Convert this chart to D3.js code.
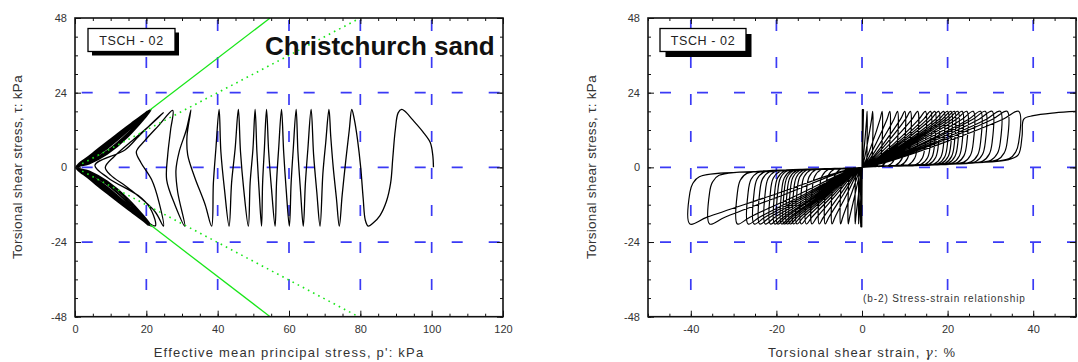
<!DOCTYPE html>
<html>
<head>
<meta charset="utf-8">
<script src="https://cdn.jsdelivr.net/npm/d3@7/dist/d3.min.js"></script>
<style>
  body { margin: 0; background: #fff; }
  svg { display: block; font-family: Arial, "Liberation Sans", sans-serif; }
</style>
</head>
<body>
<svg id="chart" width="1078" height="362"></svg>
<script>
// ---- data ----
const tauTicks = [-48, -24, 0, 24, 48];
const pTicks = [0, 20, 40, 60, 80, 100, 120];
const strainTicks = [-40, -20, 0, 20, 40];
const tauGrid = [-24, 0, 24];
const pGrid = [20, 40, 60, 80, 100];
const strainGrid = [-40, -20, 0, 20, 40];

// green lines in the p'-tau plane, [p', tau]
const solidLineUp = [[21, 18.4], [54.7, 48]];
const solidLineDown = [[21, -18.4], [54.7, -48]];
const dottedLineUp = [[2, 1.2], [80, 48]];
const dottedLineDown = [[2, -1.2], [79.5, -48]];

// effective stress path, [p', tau] : large cycles
const pathCycles = [
  [100.5, 0], [100.3, 4], [99.6, 8], [97.5, 11.5], [94.5, 15.5], [92.5, 18], [91.6, 18.6],
  [90.6, 17.5], [89.8, 12], [89.1, 3], [88.5, -5], [87.3, -11], [85.5, -15.5], [83.5, -18], [82.2, -18.9],
  [81.4, -17], [80.8, -10], [80.1, 0], [79.2, 9], [78.3, 15.5], [77.6, 18.6],
  [76.9, 12], [75.9, 2], [74.9, -9], [74.1, -18.9],
  [73.3, -10], [72.4, 0], [71.7, 10], [71.2, 18.6],
  [70.3, 8], [69.5, -2], [68.7, -18.9],
  [67.8, -8], [66.9, 4], [66.2, 18.6],
  [65.3, 6], [64.6, -5], [64.0, -18.9],
  [63.2, -7], [62.5, 5], [62.0, 18.6],
  [61.2, 6], [60.6, -5], [60.1, -18.9],
  [59.2, -7], [58.5, 5], [57.9, 18.6],
  [57.1, 6], [56.5, -5], [56.1, -18.9],
  [55.1, -7], [54.3, 5], [53.7, 18.6],
  [53.1, 6], [52.6, -5], [52.3, -18.9],
  [51.6, -7], [51.0, 5], [50.5, 18.6],
  [49.9, 6], [49.1, -5], [48.6, -18.9],
  [47.3, -7], [46.4, 5], [45.8, 18.6],
  [44.9, 6], [43.9, -5], [43.2, -18.9],
  [41.9, -7], [40.9, 5], [40.4, 18.6],
  [39.5, 6], [38.8, -5], [38.3, -18.9]
];

// transition towards the butterfly shape
const pathTransition = [
  [36.5, -12], [33.5, -3], [31.6, 4], [31.4, 10], [32.5, 18.5],
  [31.2, 12], [29.2, 5], [28.3, -1], [28.8, -8], [30.8, -18.9],
  [28, -12], [25.7, -4], [26, 4], [26.8, 12], [27.4, 18.3],
  [23.5, 13.5], [19.5, 8.5], [17.2, 5], [18.5, 1.5], [21.5, -4], [23.5, -11], [24.8, -18.9],
  [22.4, -14.2], [15, -6.7], [10, -2.5], [8.5, 0], [11, 3.5], [17, 9.5], [21.5, 14], [24.8, 17.6],
  [21.5, 14.1], [17.8, 9.9], [14, 5.6], [5.6, 0.7], [9.3, -3.4], [18.7, -9.9], [21.5, -14], [22.5, -18.8]
];

// butterfly loops near the origin
const pathButterfly = [
  [14, -11.5], [8, -5.5], [3, -1.5], [0.6, 0],
  [5, 4.4], [10, 8.8], [15, 13.2], [21, 18.4], [15, 11.8], [9, 6.0], [4, 2.1], [0.6, 0],
  [5, -4.5], [10, -9.0], [15, -13.4], [21, -18.6], [15, -12.2], [9, -6.2], [4, -2.3], [0.5, 0],
  [5, 4.3], [10, 8.6], [15, 13.0], [20.6, 18.3], [15, 12.4], [9, 6.8], [4, 2.6], [0.4, 0],
  [5, -4.4], [10, -8.9], [15, -13.3], [20.8, -18.7], [15, -12.8], [9, -7.0], [4, -2.8], [0.4, 0],
  [5, 4.5], [10, 8.9], [15, 13.3], [21.2, 18.5], [15, 11.2], [9, 5.3], [4, 1.7], [0.7, 0],
  [5, -4.6], [10, -9.1], [15, -13.5], [21.3, -18.8], [15, -11.6], [9, -5.6], [4, -1.9], [0.6, 0],
  [5, 4.2], [10, 8.5], [15, 12.9], [20.4, 18.2], [15, 12.7], [9, 7.2], [4, 3.0], [0.3, 0],
  [5, -4.3], [10, -8.7], [15, -13.1], [20.5, -18.6], [15, -13.0], [9, -7.4], [4, -3.1], [0.3, 0],
  [5, 4.4], [10, 8.7], [15, 13.1], [20.9, 18.4], [15, 10.5], [9, 4.6], [4, 1.3], [0.8, 0],
  [5, -4.5], [10, -9.0], [15, -13.4], [21, -18.8], [15, -10.8], [9, -4.8], [4, -1.4], [0.8, 0],
  [5, 4.3], [10, 8.7], [15, 13.1], [20.7, 18.3], [15, 12.2], [9, 6.5], [4, 2.4], [0.4, 0],
  [5, -4.4], [10, -8.9], [15, -13.2], [20.7, -18.7], [15, -12.5], [9, -6.6], [4, -2.5], [0.4, 0],
  [5, 4.5], [10, 8.9], [15, 13.3], [21.1, 18.5], [15, 11.0], [9, 5.0], [4, 1.5], [0.7, 0],
  [5, -4.6], [10, -9.2], [15, -13.6], [21.2, -18.8], [15, -11.4], [9, -5.3], [4, -1.7], [0.6, 0],
  [5, 4.6], [10, 9.1], [15, 13.5], [21.3, 18.6], [15, 10.0], [9, 4.2], [4, 1.1], [0.9, 0],
  [5, -4.7], [10, -9.3], [15, -13.7], [21.4, -18.9], [15, -10.2], [9, -4.4], [4, -1.2], [0.9, 0],
  [5, 4.4], [10, 8.8], [15, 13.2], [21, 18.4], [15, 12.0], [9, 6.3], [4, 2.2], [0.5, 0],
  [5, -4.5], [10, -9.0], [15, -13.4], [21, -18.7], [15, -12.3], [9, -6.4], [4, -2.4], [0.5, 0]
];

// stress-strain: strain amplitudes (%) of each cycle
const earlyPos = [0.08, 0.12, 0.18, 0.25, 0.35];
const earlyNeg = [-0.05, -0.1, -0.15, -0.22, -0.3];
const ampPos = [1.2, 2.5, 4.7, 6.5, 8.3, 10.0, 11.3, 13.0, 14.8, 16.0, 17.0, 17.9, 19.1, 20.0,
  20.8, 21.6, 22.4, 23.4, 24.5, 26.0, 27.7, 28.8, 30.4, 32.3, 33.9, 36.6];
const ampNeg = [-0.8, -1.6, -3.2, -5.0, -7.0, -8.6, -10.0, -11.7, -13.0, -14.2, -15.2, -16.0, -16.8,
  -17.5, -18.2, -18.8, -19.7, -20.4, -21.4, -22.6, -23.9, -25.2, -26.6, -29.1, -35.6, -40.2];
// flat low-stiffness band near tau = 0
const bandPosStrain = [0, 10, 20, 30, 38];
const bandPosTau = [0.1, 0.6, 1.2, 2.0, 3.0];
const bandNegStrain = [0, -10, -20, -30, -40];
const bandNegTau = [-0.1, -0.6, -1.2, -2.0, -3.0];
// last loading branch running off the right edge
const finalBranch = [[18, 1.1], [34, 2.4], [36.5, 4], [37.4, 10], [37.8, 15.5], [40, 16.6], [45, 17.5], [50.5, 18.0]];
const tauAmpPos = 18, tauAmpNeg = -18.2;

// ---- layout ----
const svg = d3.select('#chart');
const panelA = { left: 75, right: 503, top: 18, bottom: 316.7 };
const panelB = { left: 648, right: 1076, top: 18, bottom: 316.7 };
const blue = '#3a3af5';

const xA = d3.scaleLinear().domain([0, 120]).range([panelA.left, panelA.right]);
const xB = d3.scaleLinear().domain([-50, 50]).range([panelB.left, panelB.right]);
const yA = d3.scaleLinear().domain([-48, 48]).range([panelA.bottom, panelA.top]);
const yB = d3.scaleLinear().domain([-48, 48]).range([panelB.bottom, panelB.top]);

function clip(id, pnl) {
  svg.append('clipPath').attr('id', id).append('rect')
    .attr('x', pnl.left).attr('y', pnl.top)
    .attr('width', pnl.right - pnl.left).attr('height', pnl.bottom - pnl.top);
}
clip('clipA', panelA);
clip('clipB', panelB);

function drawGrid(pnl, x, y, xs, ys, hOffset) {
  const g = svg.append('g').attr('stroke', blue).attr('stroke-width', 1.7)
    .attr('stroke-dasharray', '11,26').attr('fill', 'none');
  ys.forEach(v => {
    g.append('line').attr('x1', pnl.left + hOffset).attr('x2', pnl.right)
      .attr('y1', y(v)).attr('y2', y(v));
  });
  xs.forEach(v => {
    g.append('line').attr('x1', x(v)).attr('x2', x(v))
      .attr('y1', pnl.top + 2).attr('y2', pnl.bottom);
  });
}

const plainNum = d => String(d);

function drawAxes(pnl, x, y, xTicks, xMinor, yTicks, yMinor) {
  const g = svg.append('g');
  const style = sel => {
    sel.select('.domain').remove();
    sel.selectAll('.tick line').attr('stroke', '#111');
    sel.selectAll('.tick text').attr('font-size', 11).attr('fill', '#333')
      .attr('font-family', 'Arial, "Liberation Sans", sans-serif');
  };
  g.append('g').attr('transform', `translate(0,${pnl.bottom})`)
    .call(d3.axisBottom(x).tickValues(xTicks).tickFormat(plainNum).tickSizeInner(-6).tickSizeOuter(0).tickPadding(9)).call(style);
  g.append('g').attr('transform', `translate(0,${pnl.bottom})`)
    .call(d3.axisBottom(x).tickValues(xMinor).tickSize(-3).tickFormat('')).call(style);
  g.append('g').attr('transform', `translate(0,${pnl.top})`)
    .call(d3.axisTop(x).tickValues(xTicks).tickSize(-6).tickFormat('')).call(style);
  g.append('g').attr('transform', `translate(0,${pnl.top})`)
    .call(d3.axisTop(x).tickValues(xMinor).tickSize(-3).tickFormat('')).call(style);
  g.append('g').attr('transform', `translate(${pnl.left},0)`)
    .call(d3.axisLeft(y).tickValues(yTicks).tickFormat(plainNum).tickSizeInner(-6).tickSizeOuter(0).tickPadding(8)).call(style);
  g.append('g').attr('transform', `translate(${pnl.left},0)`)
    .call(d3.axisLeft(y).tickValues(yMinor).tickSize(-3).tickFormat('')).call(style);
  g.append('g').attr('transform', `translate(${pnl.right},0)`)
    .call(d3.axisRight(y).tickValues(yTicks).tickSize(-6).tickFormat('')).call(style);
  g.append('g').attr('transform', `translate(${pnl.right},0)`)
    .call(d3.axisRight(y).tickValues(yMinor).tickSize(-3).tickFormat('')).call(style);

  svg.append('rect').attr('x', pnl.left).attr('y', pnl.top)
    .attr('width', pnl.right - pnl.left).attr('height', pnl.bottom - pnl.top)
    .attr('fill', 'none').attr('stroke', '#111').attr('stroke-width', 1.6);
}

function labelBox(x0, y0, w, h, shadow) {
  svg.append('rect').attr('x', x0 + shadow).attr('y', y0 + shadow).attr('width', w).attr('height', h).attr('fill', '#000');
  svg.append('rect').attr('x', x0).attr('y', y0).attr('width', w).attr('height', h)
    .attr('fill', '#fff').attr('stroke', '#000').attr('stroke-width', 1.3);
  svg.append('text').attr('x', x0 + w / 2).attr('y', y0 + h / 2 + 4.5)
    .attr('text-anchor', 'middle').attr('font-size', 12.5).attr('letter-spacing', 0.6)
    .attr('fill', '#222').text('TSCH - 02');
}

const tauMinor = d3.range(-48, 49, 6);
const pMinor = d3.range(0, 121, 5);
const strainMinor = d3.range(-50, 51, 5);

// ---- left panel: effective stress path ----
drawGrid(panelA, xA, yA, pGrid, tauGrid, 6.7);

const lineA = d3.line().x(d => xA(d[0])).y(d => yA(d[1])).curve(d3.curveCatmullRom.alpha(0.5));
const gA = svg.append('g').attr('clip-path', 'url(#clipA)');
gA.append('path').attr('d', lineA(pathCycles.concat(pathTransition, pathButterfly)))
  .attr('fill', 'none').attr('stroke', '#000').attr('stroke-width', 1.3).attr('stroke-linejoin', 'round');

const straight = d3.line().x(d => xA(d[0])).y(d => yA(d[1]));
[solidLineUp, solidLineDown].forEach(l => {
  gA.append('path').attr('d', straight(l)).attr('fill', 'none')
    .attr('stroke', '#19e619').attr('stroke-width', 1.3);
});
[dottedLineUp, dottedLineDown].forEach(l => {
  gA.append('path').attr('d', straight(l)).attr('fill', 'none')
    .attr('stroke', '#19e619').attr('stroke-width', 1.6).attr('stroke-dasharray', '1.6,4.2');
});

drawAxes(panelA, xA, yA, pTicks, pMinor, tauTicks, tauMinor);
labelBox(88, 28.5, 87, 23, 4);
svg.append('text').attr('x', 265).attr('y', 55).attr('font-size', 26).attr('font-weight', 'bold')
  .attr('fill', '#111').text('Christchurch sand');

// ---- right panel: stress-strain ----
drawGrid(panelB, xB, yB, strainGrid, tauGrid, 12);

const bandPos = d3.scaleLinear().domain(bandPosStrain).range(bandPosTau).clamp(true);
const bandNeg = d3.scaleLinear().domain(bandNegStrain).range(bandNegTau).clamp(true);
const ssPoints = [[0, 0]];
earlyPos.forEach((gp, i) => { ssPoints.push([gp, 18.6], [earlyNeg[i], -19.1]); });
ssPoints.push([0, 0]);
ampPos.forEach((gp, i) => {
  const gn = ampNeg[i];
  const cp = Math.min(2.2, 0.3 * gp), bp = bandPos(gp);
  ssPoints.push([0.5 * gp, bandPos(0.5 * gp)], [gp - cp, bp], [gp - 0.3 * cp, bp + 2.2], [gp, 8], [gp, tauAmpPos]);
  ssPoints.push([gp * 0.9, tauAmpPos * 0.86], [gp * 0.5, tauAmpPos * 0.42], [gp * 0.12, 1.2], [0, 0]);
  const cn = Math.min(2.2, -0.3 * gn), bn = bandNeg(gn);
  ssPoints.push([0.5 * gn, bandNeg(0.5 * gn)], [gn + cn, bn], [gn + 0.3 * cn, bn - 2.2], [gn, -8], [gn, tauAmpNeg]);
  ssPoints.push([gn * 0.9, tauAmpNeg * 0.88], [gn * 0.5, tauAmpNeg * 0.47], [gn * 0.12, -1.3], [0, 0]);
});
finalBranch.forEach(d => ssPoints.push(d));

const lineB = d3.line().x(d => xB(d[0])).y(d => yB(d[1])).curve(d3.curveCatmullRom.alpha(0.5));
svg.append('g').attr('clip-path', 'url(#clipB)')
  .append('path').attr('d', lineB(ssPoints))
  .attr('fill', 'none').attr('stroke', '#000').attr('stroke-width', 1.2).attr('stroke-linejoin', 'round');

drawAxes(panelB, xB, yB, strainTicks, strainMinor, tauTicks, tauMinor);
labelBox(660, 28.5, 86, 23, 5.5);
svg.append('text').attr('x', 863).attr('y', 302).attr('font-size', 10).attr('letter-spacing', 0.9)
  .attr('fill', '#333').text('(b-2) Stress-strain relationship');

// ---- axis titles ----
function yTitle(cx) {
  svg.append('text').attr('transform', `translate(${cx},167) rotate(-90)`)
    .attr('text-anchor', 'middle').attr('font-size', 13.5).attr('letter-spacing', 0.3)
    .attr('fill', '#333').text('Torsional shear stress, τ: kPa');
}
yTitle(22);
yTitle(596);
svg.append('text').attr('x', 289).attr('y', 357).attr('text-anchor', 'middle')
  .attr('font-size', 13).attr('letter-spacing', 1.2).attr('fill', '#333')
  .text('Effective mean principal stress, p\': kPa');
const tx = svg.append('text').attr('x', 862).attr('y', 357).attr('text-anchor', 'middle')
  .attr('font-size', 13).attr('letter-spacing', 1.1).attr('fill', '#333');
tx.append('tspan').text('Torsional shear strain, ');
tx.append('tspan').attr('font-style', 'italic').attr('font-family', '"DejaVu Serif", serif').text('γ');
tx.append('tspan').text(': %');
</script>
</body>
</html>
